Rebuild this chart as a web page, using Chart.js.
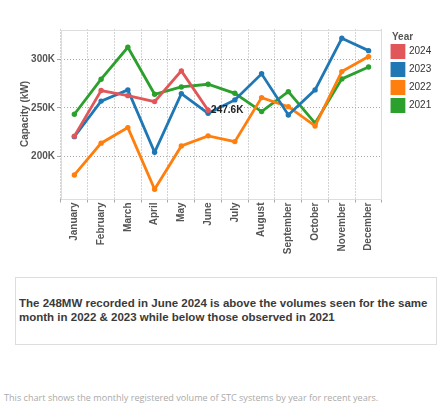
<!DOCTYPE html>
<html>
<head>
<meta charset="utf-8">
<script src="https://cdn.jsdelivr.net/npm/chart.js@4"></script>
<style>
  html, body { margin: 0; padding: 0; background: #fff; }
  body { width: 445px; height: 415px; position: relative; overflow: hidden; }
  #wrap { position: absolute; left: 0; top: 0; width: 445px; height: 260px; }
  #note { position: absolute; left: 15px; top: 277px; width: 422px; height: 68px;
          border: 1px solid #dddddd; box-sizing: border-box;
          font-family: "Liberation Sans", Arial, sans-serif; font-weight: bold;
          font-size: 11.5px; line-height: 13.6px; color: #3a3a3a; }
  #note p { margin: 0; position: absolute; left: 3px; top: 19px; width: 418px; }
  #foot { position: absolute; left: 4px; top: 391px; white-space: nowrap;
          font-family: "Open Sans", sans-serif; font-size: 9.1px; color: #aaaaaa; }
</style>
</head>
<body>
<div id="wrap"><canvas id="c"></canvas></div>
<div id="note"><p>The 248MW recorded in June 2024 is above the volumes seen for the same month in 2022 &amp; 2023 while below those observed in 2021</p></div>
<div id="foot">This chart shows the monthly registered volume of STC systems by year for recent years.</div>
<script>
const months = ["January","February","March","April","May","June","July","August","September","October","November","December"];
const seriesNames = ["2024","2023","2022","2021"];
const seriesColors = ["#e15759","#1f77b4","#ff7f0e","#2ca02c"];
const values2024 = [221000, 267800, 262600, 256500, 288000, 247600, null, null, null, null, null, null];
const values2023 = [220500, 257000, 268500, 204500, 264700, 244500, 258200, 285000, 242800, 268500, 321500, 308800];
const values2022 = [181200, 213800, 229800, 166500, 211000, 221300, 215400, 260600, 251300, 231500, 287300, 302700];
const values2021 = [243500, 279500, 312300, 264000, 271500, 274300, 265000, 246200, 266700, 234300, 279800, 292000];
const yTickValues = [200000, 250000, 300000];
const legendTitle = "Year";
const labelledPoint = { series: 0, index: 5 };

const allValues = [values2024, values2023, values2022, values2021];

const fontFam = '"Liberation Sans", Arial, sans-serif';
const legendPad = 6;

const areaBorder = {
  id: 'areaBorder',
  beforeDatasetsDraw(chart) {
    const a = chart.chartArea, ctx = chart.ctx;
    ctx.save();
    ctx.strokeStyle = '#dddddd';
    ctx.lineWidth = 1;
    ctx.setLineDash([]);
    ctx.strokeRect(Math.round(a.left) + 0.5, Math.round(a.top) + 0.5, Math.round(a.right - a.left) - 1, Math.round(a.bottom - a.top));
    ctx.restore();
  }
};

const pointLabel = {
  id: 'pointLabel',
  afterDatasetsDraw(chart) {
    const meta = chart.getDatasetMeta(labelledPoint.series);
    const el = meta.data[labelledPoint.index];
    const v = allValues[labelledPoint.series][labelledPoint.index];
    const ctx = chart.ctx;
    ctx.save();
    ctx.font = 'bold 10px ' + fontFam;
    ctx.fillStyle = '#222222';
    ctx.textAlign = 'left';
    ctx.textBaseline = 'middle';
    ctx.fillText((v / 1000).toFixed(1) + 'K', el.x + 3, el.y + 0.5);
    ctx.restore();
  }
};

const legendHeading = {
  id: 'legendHeading',
  afterDraw(chart) {
    const lg = chart.legend;
    if (!lg) return;
    const ctx = chart.ctx;
    ctx.save();
    ctx.font = 'bold 10px ' + fontFam;
    ctx.fillStyle = '#555555';
    ctx.textAlign = 'left';
    ctx.textBaseline = 'middle';
    ctx.fillText(legendTitle, lg.left + legendPad, lg.top + 7.5);
    ctx.restore();
  }
};

new Chart(document.getElementById('c'), {
  type: 'line',
  data: {
    labels: months,
    datasets: seriesNames.map((n, i) => ({
      label: n,
      data: allValues[i],
      borderColor: seriesColors[i],
      backgroundColor: seriesColors[i],
      borderWidth: 2.8,
      pointRadius: 2.7,
      pointHoverRadius: 2.7,
      pointBorderWidth: 0,
      tension: 0,
      spanGaps: false
    }))
  },
  options: {
    responsive: true,
    maintainAspectRatio: false,
    animation: false,
    events: [],
    layout: { padding: { top: 29.5, right: 3.8, left: 0, bottom: 0 } },
    scales: {
      x: {
        type: 'category',
        offset: true,
        grid: { offset: true, color: '#a8a8a8', tickLength: 4, lineWidth: 1, drawTicks: true },
        border: { display: false, dash: [1, 2] },
        ticks: {
          autoSkip: false, minRotation: 90, maxRotation: 90, padding: 0,
          color: '#555555', font: { family: fontFam, size: 10, weight: 'bold' }
        },
        afterFit(s) { s.height = 61.5; }
      },
      y: {
        type: 'linear',
        min: 157000,
        max: 330500,
        grid: { color: '#a8a8a8', tickLength: 4, lineWidth: 1 },
        border: { display: false, dash: [1, 2] },
        afterBuildTicks(s) { s.ticks = yTickValues.map(v => ({ value: v })); },
        ticks: {
          padding: 2, color: '#555555', font: { family: fontFam, size: 10, weight: 'bold' },
          callback: v => (v / 1000) + 'K'
        },
        title: {
          display: true, text: 'Capacity (kW)', color: '#555555',
          font: { family: fontFam, size: 10, weight: 'bold' },
          padding: { top: 19, bottom: 0 }
        },
        afterFit(s) { s.width = 61; }
      },
      gap: {
        type: 'linear', position: 'right', display: true,
        grid: { display: false }, border: { display: false },
        ticks: { display: false },
        afterFit(s) { s.width = 4; }
      }
    },
    plugins: {
      legend: {
        position: 'right',
        align: 'start',
        title: {
          display: true, text: '', 
          font: { family: fontFam, size: 10, weight: 'bold', lineHeight: 1 },
          padding: 0
        },
        labels: {
          boxWidth: 12, boxHeight: 12, padding: legendPad, color: '#333333',
          font: { family: fontFam, size: 10 }
        }
      },
      tooltip: { enabled: false }
    }
  },
  plugins: [areaBorder, pointLabel, legendHeading]
});
</script>
</body>
</html>
